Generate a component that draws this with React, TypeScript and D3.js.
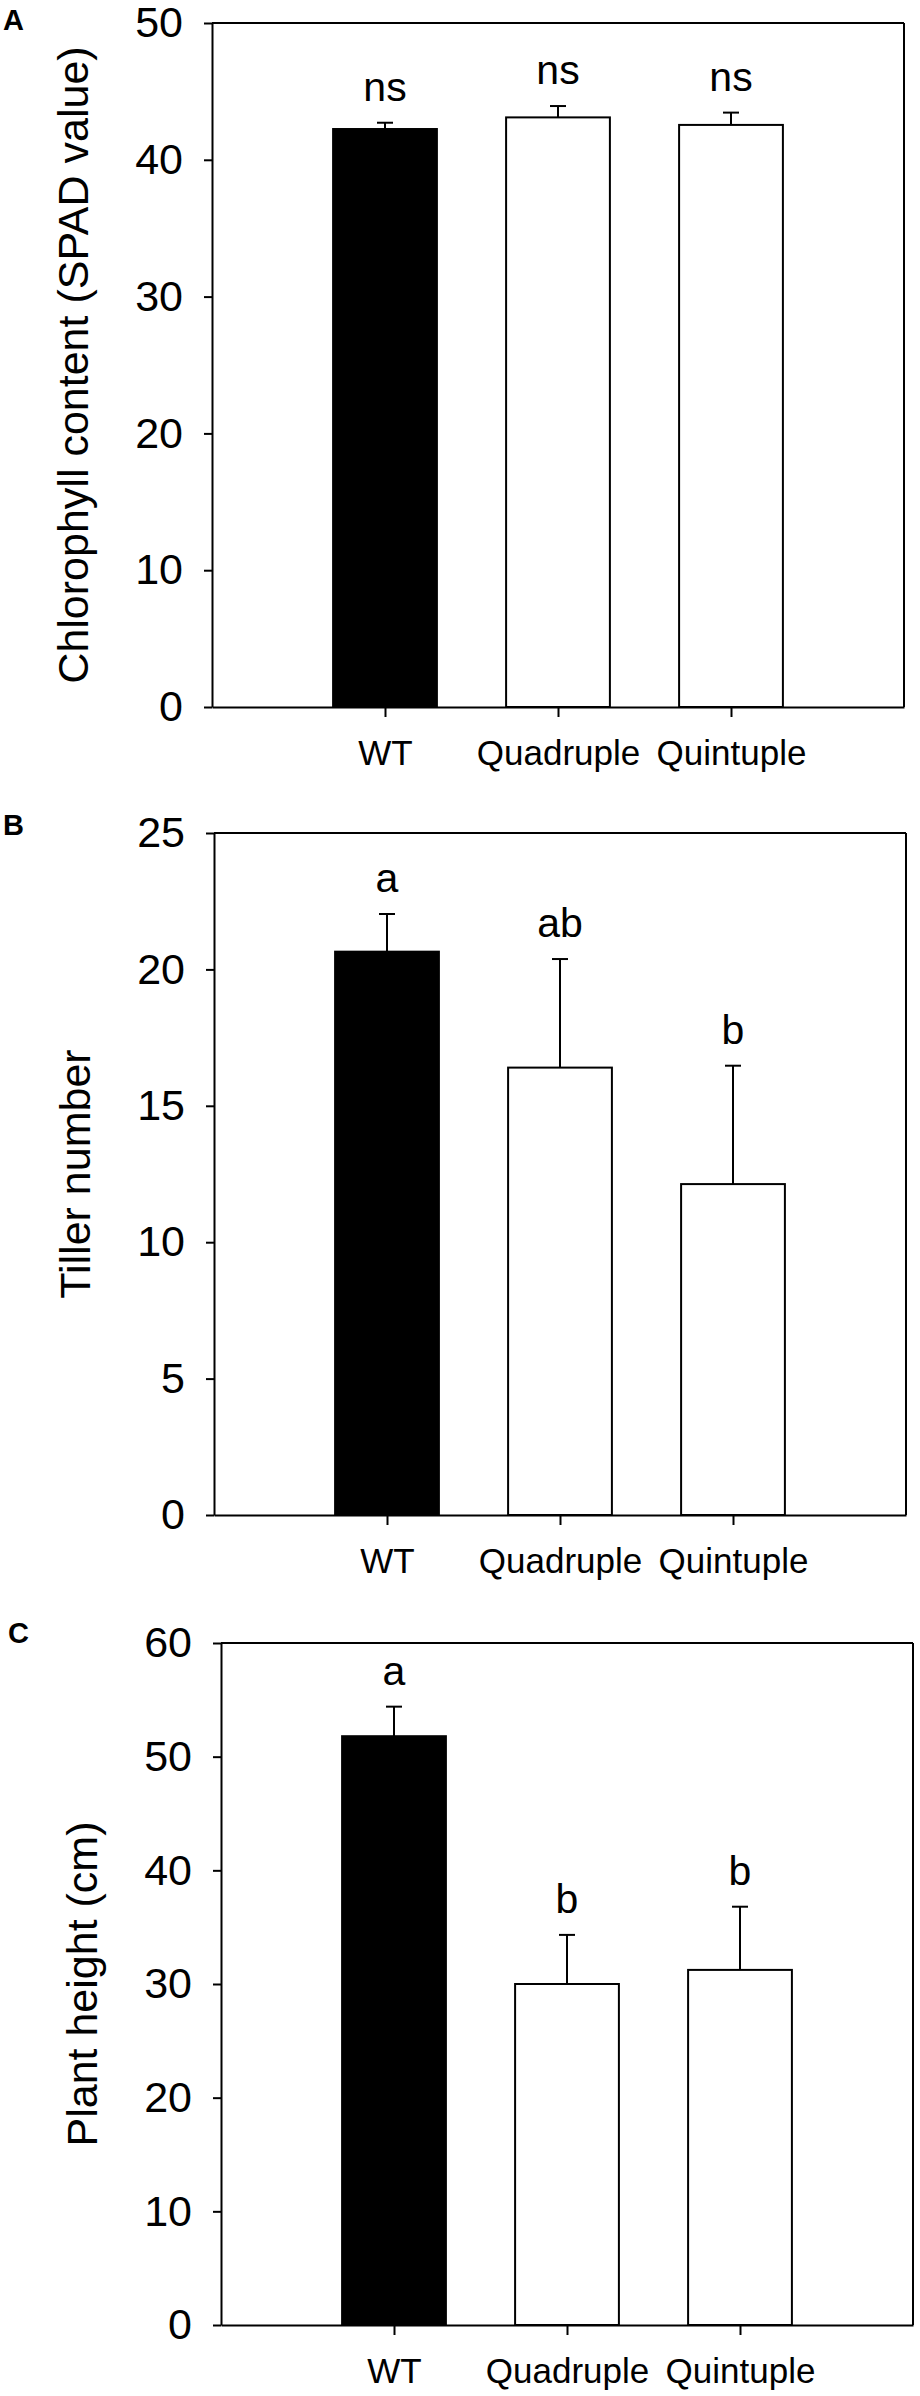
import { useEffect, useRef } from "react"
import * as d3 from "d3"

const groups = ["WT", "Quadruple", "Quintuple"]

const chlorophyllMean = [42.25, 43.1, 42.55]
const chlorophyllSE = [0.46, 0.83, 0.9]
const chlorophyllLetters = ["ns", "ns", "ns"]
const chlorophyllTicks = [0, 10, 20, 30, 40, 50]

const tillerMean = [20.65, 16.4, 12.13]
const tillerSE = [1.38, 3.98, 4.34]
const tillerLetters = ["a", "ab", "b"]
const tillerTicks = [0, 5, 10, 15, 20, 25]

const heightMean = [51.8, 30.0, 31.24]
const heightSE = [2.6, 4.32, 5.56]
const heightLetters = ["a", "b", "b"]
const heightTicks = [0, 10, 20, 30, 40, 50, 60]

const FONT = "'Liberation Sans', Arial, sans-serif"

interface Panel {
  letter: string
  title: string
  mean: number[]
  se: number[]
  letters: string[]
  ticks: number[]
  // layout
  left: number
  top: number
  bottom: number
  letterX: number
  letterY: number
}

const panels: Panel[] = [
  {
    letter: "A",
    title: "Chlorophyll content (SPAD value)",
    mean: chlorophyllMean,
    se: chlorophyllSE,
    letters: chlorophyllLetters,
    ticks: chlorophyllTicks,
    left: 212,
    top: 23,
    bottom: 707,
    letterX: 3,
    letterY: 30,
  },
  {
    letter: "B",
    title: "Tiller number",
    mean: tillerMean,
    se: tillerSE,
    letters: tillerLetters,
    ticks: tillerTicks,
    left: 214,
    top: 833,
    bottom: 1515,
    letterX: 3,
    letterY: 835,
  },
  {
    letter: "C",
    title: "Plant height (cm)",
    mean: heightMean,
    se: heightSE,
    letters: heightLetters,
    ticks: heightTicks,
    left: 221,
    top: 1643,
    bottom: 2325,
    letterX: 8,
    letterY: 1643,
  },
]

const WIDTH = 920
const HEIGHT = 2396
const PLOT_W = 692

export default function App() {
  const svgRef = useRef<SVGSVGElement>(null)

  useEffect(() => {
    if (!svgRef.current) return
    const svg = d3.select(svgRef.current)
    svg.selectAll("*").remove()

    panels.forEach((p) => {
      const x = d3.scaleLinear().domain([0, 4]).range([p.left, p.left + PLOT_W])
      const y = d3
        .scaleLinear()
        .domain([0, p.ticks[p.ticks.length - 1]])
        .range([p.bottom, p.top])
      const barW = (x(1) - x(0)) * 0.6

      const g = svg.append("g")

      // bars
      g.selectAll(".bar")
        .data(p.mean)
        .enter()
        .append("rect")
        .attr("x", (_, i) => x(i + 1) - barW / 2)
        .attr("y", (d) => y(d))
        .attr("width", barW)
        .attr("height", (d) => y(0) - y(d))
        .attr("fill", (_, i) => (i === 0 ? "#000" : "#fff"))
        .attr("stroke", "#000")
        .attr("stroke-width", 2)

      // error bars (upper only)
      g.selectAll(".err")
        .data(p.mean)
        .enter()
        .append("line")
        .attr("x1", (_, i) => x(i + 1))
        .attr("x2", (_, i) => x(i + 1))
        .attr("y1", (d) => y(d))
        .attr("y2", (d, i) => y(d + p.se[i]))
        .attr("stroke", "#000")
        .attr("stroke-width", 2)

      g.selectAll(".cap")
        .data(p.mean)
        .enter()
        .append("line")
        .attr("x1", (_, i) => x(i + 1) - 8)
        .attr("x2", (_, i) => x(i + 1) + 8)
        .attr("y1", (d, i) => y(d + p.se[i]))
        .attr("y2", (d, i) => y(d + p.se[i]))
        .attr("stroke", "#000")
        .attr("stroke-width", 2)

      // significance letters
      g.selectAll(".sig")
        .data(p.letters)
        .enter()
        .append("text")
        .attr("x", (_, i) => x(i + 1))
        .attr("y", (_, i) => y(p.mean[i] + p.se[i]) - 22)
        .attr("text-anchor", "middle")
        .attr("font-family", FONT)
        .attr("font-size", 41)
        .attr("fill", "#000")
        .text((d) => d)

      // frame top + right
      g.append("line")
        .attr("x1", x(0))
        .attr("x2", x(4))
        .attr("y1", y.range()[1])
        .attr("y2", y.range()[1])
        .attr("stroke", "#000")
        .attr("stroke-width", 2)
      g.append("line")
        .attr("x1", x(4))
        .attr("x2", x(4))
        .attr("y1", y.range()[1])
        .attr("y2", y.range()[0])
        .attr("stroke", "#000")
        .attr("stroke-width", 2)

      // y axis
      const yAxis = g
        .append("g")
        .attr("transform", `translate(${p.left},0)`)
        .call(d3.axisLeft(y).tickValues(p.ticks).tickSize(8).tickSizeOuter(0).tickPadding(21))
      yAxis.select(".domain").attr("stroke-width", 2)
      yAxis.selectAll(".tick line").attr("stroke-width", 2)
      yAxis
        .selectAll("text")
        .attr("font-family", FONT)
        .attr("font-size", 43)
        .attr("fill", "#000")

      // x axis
      const xAxis = g
        .append("g")
        .attr("transform", `translate(0,${p.bottom})`)
        .call(
          d3
            .axisBottom(x)
            .tickValues([1, 2, 3])
            .tickSize(10)
            .tickSizeOuter(0)
            .tickPadding(23)
            .tickFormat((d) => groups[(d as number) - 1]),
        )
      xAxis.select(".domain").attr("stroke-width", 2)
      xAxis.selectAll(".tick line").attr("stroke-width", 2)
      xAxis
        .selectAll("text")
        .attr("font-family", FONT)
        .attr("font-size", 35)
        .attr("fill", "#000")

      // y title
      const midY = (p.top + p.bottom) / 2
      const titleX = p.left - 124
      g.append("text")
        .attr("transform", `translate(${titleX},${midY}) rotate(-90)`)
        .attr("text-anchor", "middle")
        .attr("font-family", FONT)
        .attr("font-size", 43)
        .attr("fill", "#000")
        .text(p.title)

      // panel letter
      g.append("text")
        .attr("x", p.letterX)
        .attr("y", p.letterY)
        .attr("font-family", FONT)
        .attr("font-size", 29)
        .attr("font-weight", "bold")
        .attr("fill", "#000")
        .text(p.letter)
    })
  }, [])

  return (
    <div style={{ position: "absolute", left: 0, top: 0 }}>
      <svg ref={svgRef} width={WIDTH} height={HEIGHT} style={{ display: "block", background: "#fff" }} />
    </div>
  )
}
